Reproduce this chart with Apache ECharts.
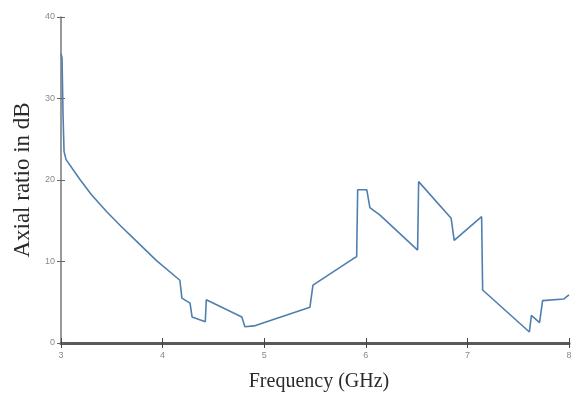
<!DOCTYPE html>
<html>
<head>
<meta charset="utf-8">
<script src="https://cdn.jsdelivr.net/npm/echarts@6/dist/echarts.min.js"></script>
<style>
  html, body { margin: 0; padding: 0; background: #fff; }
  #chart { width: 572px; height: 394px; }
</style>
</head>
<body>
<div id="chart"></div>
<script>
// Frequency sweep (GHz) and measured axial ratio (dB)
const freqGHz = [3.00, 3.01, 3.02, 3.03, 3.05, 3.19, 3.30, 3.45, 3.60, 3.75, 3.94, 4.17, 4.19, 4.27, 4.29, 4.42, 4.43, 4.78, 4.81, 4.90, 5.45, 5.48, 5.87, 5.91, 5.92, 6.01, 6.04, 6.14, 6.51, 6.52, 6.84, 6.87, 7.14, 7.15, 7.61, 7.63, 7.71, 7.74, 7.95, 8.00];
const axialRatio = [35.5, 35.0, 28.0, 23.5, 22.5, 20.0, 18.2, 16.1, 14.2, 12.4, 10.1, 7.7, 5.5, 4.9, 3.2, 2.6, 5.3, 3.2, 2.0, 2.1, 4.4, 7.1, 10.3, 10.6, 18.8, 18.8, 16.6, 15.7, 11.4, 19.8, 15.3, 12.6, 15.5, 6.5, 1.35, 3.4, 2.5, 5.2, 5.4, 5.9];
const xTicks = { min: 3, max: 8, step: 1 };
const yTicks = { min: 0, max: 40, step: 10 };

const points = freqGHz.map((f, i) => [f, axialRatio[i]]);

const chart = echarts.init(document.getElementById('chart'));
const tickLabel = { color: '#8a8a8a', fontSize: 9, fontFamily: 'Liberation Sans' };

chart.setOption({
  animation: false,
  backgroundColor: '#ffffff',
  grid: { left: 61, right: 3, top: 17, bottom: 51, containLabel: false, outerBoundsMode: 'none' },
  xAxis: [
    {
      type: 'value', min: xTicks.min, max: xTicks.max, interval: xTicks.step,
      name: 'Frequency (GHz)', nameLocation: 'middle', nameGap: 29,
      nameTextStyle: { color: '#2a2a2a', fontSize: 20, fontFamily: 'Liberation Serif', padding: [0, 0, 0, 8] },
      axisLine: { lineStyle: { color: '#5a5a5a', width: 3 } },
      axisTick: { length: 5, lineStyle: { color: '#444', width: 1 } },
      axisLabel: Object.assign({ margin: 8 }, tickLabel),
      splitLine: { show: false }
    },
    {
      // inner half of the x ticks, so they cross the axis line
      type: 'value', min: xTicks.min, max: xTicks.max, interval: xTicks.step,
      position: 'bottom', axisLine: { show: false },
      axisTick: { inside: true, length: 5, lineStyle: { color: '#444', width: 1 } },
      axisLabel: { show: false }, splitLine: { show: false }
    }
  ],
  yAxis: [
    {
      type: 'value', min: yTicks.min, max: yTicks.max, interval: yTicks.step,
      name: 'Axial ratio in dB', nameLocation: 'middle', nameGap: 18,
      nameTextStyle: { color: '#2a2a2a', fontSize: 23, fontFamily: 'Liberation Serif' },
      axisLine: { show: true, lineStyle: { color: '#777', width: 1.5 } },
      axisTick: { show: true, length: 4, lineStyle: { color: '#666', width: 1 } },
      axisLabel: Object.assign({ margin: 6 }, tickLabel),
      splitLine: { show: false }
    },
    {
      // inner half of the y ticks
      type: 'value', min: yTicks.min, max: yTicks.max, interval: yTicks.step,
      position: 'left', axisLine: { show: false },
      axisTick: { show: true, inside: true, length: 4, lineStyle: { color: '#666', width: 1 } },
      axisLabel: { show: false }, splitLine: { show: false }
    }
  ],
  series: [{
    type: 'line',
    data: points,
    showSymbol: false,
    lineStyle: { color: '#4f7fae', width: 1.6 },
    z: 1
  }]
});
</script>
</body>
</html>
